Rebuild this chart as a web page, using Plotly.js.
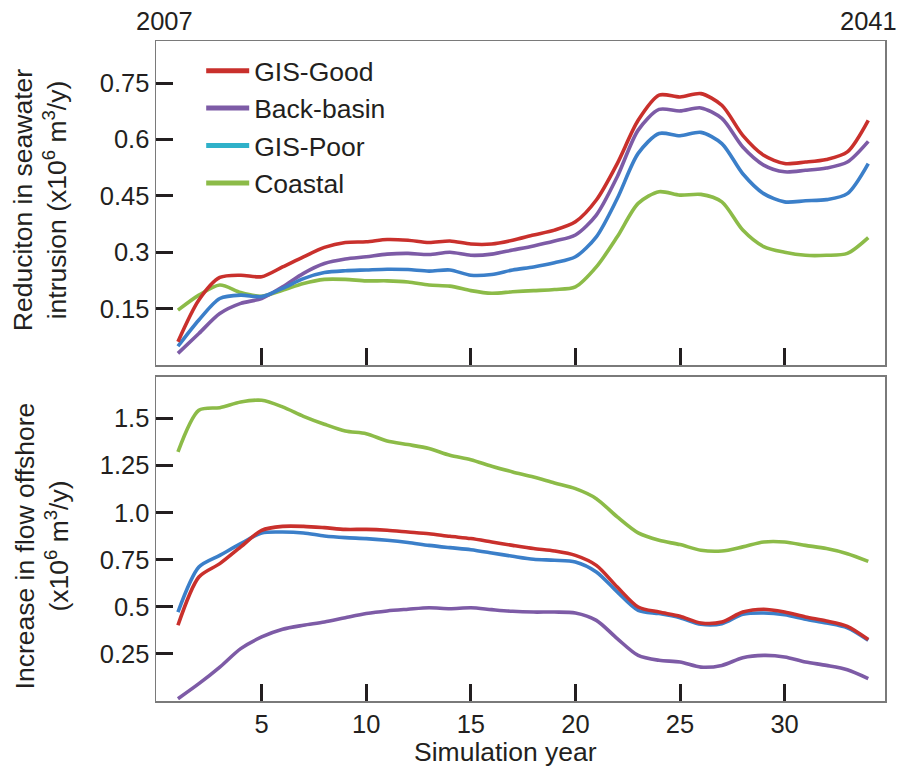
<!DOCTYPE html>
<html>
<head>
<meta charset="utf-8">
<script src="https://cdn.plot.ly/plotly-3.0.1.min.js"></script>
<style>html,body{margin:0;padding:0;background:#fff;}#chart{width:901px;height:772px;}</style>
</head>
<body>
<div id="chart"></div>
<script>
// Simulation years
const years = [1,2,3,4,5,6,7,8,9,10,11,12,13,14,15,16,17,18,19,20,21,22,23,24,25,26,27,28,29,30,31,32,33,34];

// Top panel: reduction in seawater intrusion (x10^6 m3/y)
const topGood  = [0.062,0.173,0.233,0.239,0.235,0.261,0.288,0.313,0.326,0.328,0.334,0.332,0.326,0.330,0.322,0.322,0.332,0.346,0.359,0.381,0.439,0.536,0.651,0.718,0.713,0.722,0.691,0.611,0.558,0.536,0.540,0.547,0.567,0.651];
const topBack  = [0.031,0.084,0.137,0.164,0.177,0.208,0.244,0.270,0.282,0.288,0.295,0.297,0.294,0.300,0.292,0.295,0.306,0.317,0.330,0.346,0.399,0.501,0.625,0.680,0.676,0.684,0.656,0.580,0.532,0.514,0.518,0.524,0.540,0.595];
const topPoor  = [0.050,0.120,0.177,0.186,0.182,0.204,0.230,0.246,0.251,0.253,0.255,0.254,0.250,0.253,0.239,0.241,0.253,0.261,0.272,0.288,0.341,0.443,0.563,0.616,0.610,0.619,0.589,0.509,0.456,0.434,0.437,0.440,0.456,0.536];
const topCoast = [0.146,0.186,0.213,0.193,0.183,0.199,0.217,0.228,0.228,0.224,0.224,0.221,0.213,0.210,0.198,0.191,0.195,0.198,0.201,0.208,0.261,0.341,0.430,0.461,0.452,0.454,0.434,0.359,0.315,0.300,0.292,0.292,0.297,0.339];

// Bottom panel: increase in flow offshore (x10^6 m3/y)
const botGood  = [0.402,0.658,0.729,0.818,0.906,0.927,0.927,0.920,0.911,0.911,0.906,0.897,0.888,0.874,0.862,0.844,0.826,0.809,0.796,0.773,0.720,0.605,0.499,0.472,0.450,0.414,0.419,0.472,0.487,0.472,0.446,0.425,0.396,0.326];
const botBack  = [0.012,0.092,0.180,0.278,0.340,0.381,0.402,0.419,0.442,0.464,0.478,0.487,0.495,0.490,0.495,0.485,0.476,0.472,0.472,0.467,0.428,0.331,0.242,0.216,0.207,0.180,0.189,0.230,0.242,0.234,0.207,0.189,0.166,0.119];
const botPoor  = [0.472,0.711,0.773,0.835,0.892,0.897,0.892,0.876,0.867,0.862,0.853,0.841,0.826,0.814,0.803,0.786,0.768,0.752,0.747,0.738,0.685,0.579,0.481,0.464,0.442,0.407,0.410,0.460,0.467,0.458,0.434,0.414,0.388,0.322];
const botCoast = [1.322,1.543,1.557,1.587,1.596,1.561,1.511,1.469,1.433,1.419,1.380,1.361,1.340,1.304,1.281,1.246,1.216,1.189,1.157,1.127,1.074,0.977,0.892,0.853,0.830,0.800,0.796,0.818,0.844,0.844,0.826,0.809,0.782,0.741];

const seriesNames = ["GIS-Good","Back-basin","GIS-Poor","Coastal"];
const lineColors = ["#c9302c","#7d5ba6","#3b7fc9","#8cbb48"];
const legendColors = ["#c9302c","#7d5ba6","#2fb1c9","#8cbb48"];

const xTickVals = [5,10,15,20,25,30];
const xTickText = ["5","10","15","20","25","30"];
const topTickVals = [0.15,0.3,0.45,0.6,0.75];
const topTickText = ["0.15","0.3","0.45","0.6","0.75"];
const botTickVals = [0.25,0.5,0.75,1.0,1.25,1.5];
const botTickText = ["0.25","0.5","0.75","1.0","1.25","1.5"];

const FONT = "Liberation Sans, Arial, Helvetica, sans-serif";
const TXT = "#231f20";

const topSeries = [topGood, topBack, topPoor, topCoast];
const botSeries = [botGood, botBack, botPoor, botCoast];

const traces = [];
const order = [3,1,2,0];
order.forEach(i => {
  traces.push({x: years, y: topSeries[i], xaxis:"x", yaxis:"y", mode:"lines", name: seriesNames[i],
    line:{color: lineColors[i], width:3.6, shape:"spline", smoothing:0.8}, showlegend:false, hoverinfo:"skip"});
});
order.forEach(i => {
  traces.push({x: years, y: botSeries[i], xaxis:"x2", yaxis:"y2", mode:"lines", name: seriesNames[i],
    line:{color: lineColors[i], width:3.6, shape:"spline", smoothing:0.8}, showlegend:false, hoverinfo:"skip"});
});
// legend entries
[0,1,2,3].forEach(i => {
  traces.push({x:[null], y:[null], xaxis:"x", yaxis:"y", mode:"lines", name: seriesNames[i],
    line:{color: legendColors[i], width:5}, showlegend:true, legendrank: i+1});
});

const axisCommon = {
  showline:true, linecolor:"#7a7a7a", linewidth:1.5, mirror:true,
  ticks:"inside", ticklen:17, tickwidth:3, tickcolor:"#231f20",
  showgrid:false, zeroline:false,
  tickfont:{family:FONT, size:25.5, color:TXT}
};

const layout = {
  width:901, height:772,
  margin:{l:156, r:16, t:41, b:71},
  paper_bgcolor:"#fff", plot_bgcolor:"#fff",
  font:{family:FONT, color:TXT},
  showlegend:true,
  legend:{x:0.062, y:0.991, xanchor:"left", yanchor:"top", bgcolor:"rgba(0,0,0,0)",
    font:{family:FONT, size:26.5, color:TXT}, tracegroupgap:0, traceorder:"normal", itemwidth:43},
  xaxis: Object.assign({}, axisCommon, {domain:[0,1], range:[-0.05,34.8], anchor:"y",
    tickvals:xTickVals, ticktext:xTickText, showticklabels:false}),
  yaxis: Object.assign({}, axisCommon, {domain:[0.509,1], range:[0,0.862], anchor:"x",
    tickvals:topTickVals, ticktext:topTickText}),
  xaxis2: Object.assign({}, axisCommon, {domain:[0,1], range:[-0.05,34.8], anchor:"y2",
    tickvals:xTickVals, ticktext:xTickText, showticklabels:true}),
  yaxis2: Object.assign({}, axisCommon, {domain:[0,0.491], range:[0,1.72], anchor:"x2",
    tickvals:botTickVals, ticktext:botTickText}),
  annotations:[
    {text:"2007", xref:"paper", yref:"paper", x:0.0123, y:1.030, showarrow:false,
      xanchor:"center", yanchor:"middle", font:{family:FONT, size:25.5, color:TXT}},
    {text:"2041", xref:"paper", yref:"paper", x:0.977, y:1.030, showarrow:false,
      xanchor:"center", yanchor:"middle", font:{family:FONT, size:25.5, color:TXT}},
    {text:"Reduciton in seawater<br>intrusion (x10<sup>6</sup> m<sup>3</sup>/y)", xref:"paper", yref:"paper",
      x:-0.159, y:0.759, showarrow:false, textangle:-90, xanchor:"center", yanchor:"middle",
      font:{family:FONT, size:26.5, color:TXT}},
    {text:"Increase in flow offshore<br>(x10<sup>6</sup> m<sup>3</sup>/y)", xref:"paper", yref:"paper",
      x:-0.157, y:0.235, showarrow:false, textangle:-90, xanchor:"center", yanchor:"middle",
      font:{family:FONT, size:26.5, color:TXT}},
    {text:"Simulation year", xref:"paper", yref:"paper", x:0.479, y:-0.077, showarrow:false,
      xanchor:"center", yanchor:"middle", font:{family:FONT, size:26.5, color:TXT}}
  ]
};

Plotly.newPlot("chart", traces, layout, {displayModeBar:false, staticPlot:true});
</script>
</body>
</html>
